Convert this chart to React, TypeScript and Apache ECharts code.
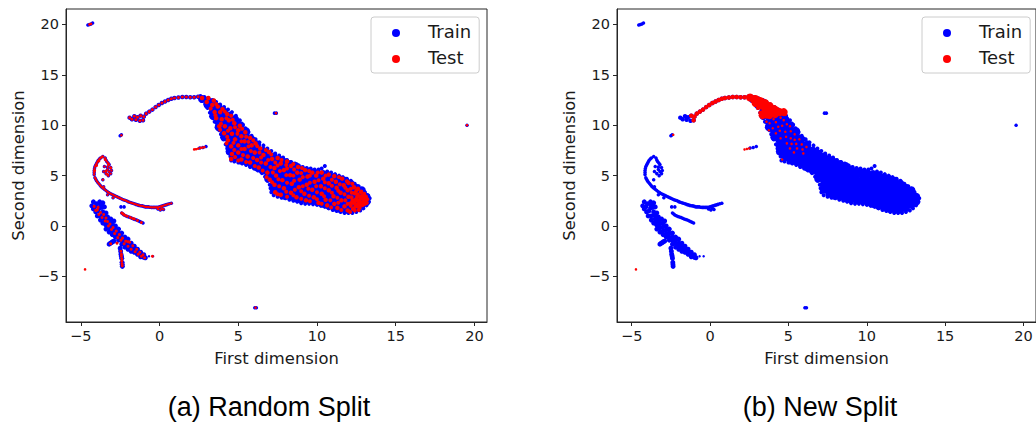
import React, { useEffect, useRef } from "react";
import * as echarts from "echarts";

const xTicks = [-5, 0, 5, 10, 15, 20];
const yTicks = [-5, 0, 5, 10, 15, 20];
const seriesNames = ["Train", "Test"];

const bodyBase = [
  [2.7,12.6],
  [3.05,12.0],[3.05,12.45],
  [3.4,10.9],[3.4,11.4],[3.4,11.9],[3.4,12.25],
  [3.75,9.8],[3.75,10.3],[3.75,10.8],[3.75,11.3],[3.75,11.8],
  [4.1,8.8],[4.1,9.3],[4.1,9.8],[4.1,10.3],[4.1,10.8],[4.1,11.35],
  [4.45,7.4],[4.45,7.9],[4.45,8.4],[4.45,8.9],[4.45,9.4],[4.45,9.9],[4.45,10.4],[4.45,10.95],
  [4.8,6.8],[4.8,7.3],[4.8,7.8],[4.8,8.3],[4.8,8.8],[4.8,9.3],[4.8,9.8],[4.8,10.3],[4.8,10.6],
  [5.15,6.5],[5.15,7.0],[5.15,7.5],[5.15,8.0],[5.15,8.5],[5.15,9.0],[5.15,9.5],[5.15,10.0],
  [5.5,6.4],[5.5,6.9],[5.5,7.4],[5.5,7.9],[5.5,8.4],[5.5,8.9],[5.5,9.4],
  [5.85,6.1],[5.85,6.6],[5.85,7.1],[5.85,7.6],[5.85,8.1],[5.85,8.6],
  [6.2,5.8],[6.2,6.3],[6.2,6.8],[6.2,7.3],[6.2,7.8],[6.2,8.1],
  [6.55,5.5],[6.55,6.0],[6.55,6.5],[6.55,7.0],[6.55,7.5],
  [6.9,4.7],[6.9,5.2],[6.9,5.7],[6.9,6.2],[6.9,6.7],[6.9,7.2],
  [7.25,3.6],[7.25,4.1],[7.25,4.6],[7.25,5.1],[7.25,5.6],[7.25,6.1],[7.25,6.6],[7.25,6.9],
  [7.6,3.2],[7.6,3.7],[7.6,4.2],[7.6,4.7],[7.6,5.2],[7.6,5.7],[7.6,6.2],[7.6,6.6],
  [7.95,3.0],[7.95,3.5],[7.95,4.0],[7.95,4.5],[7.95,5.0],[7.95,5.5],[7.95,6.0],[7.95,6.35],
  [8.3,2.9],[8.3,3.4],[8.3,3.9],[8.3,4.4],[8.3,4.9],[8.3,5.4],[8.3,5.9],[8.3,6.15],
  [8.65,2.75],[8.65,3.25],[8.65,3.75],[8.65,4.25],[8.65,4.75],[8.65,5.25],[8.65,5.75],[8.65,5.95],
  [9.0,2.6],[9.0,3.1],[9.0,3.6],[9.0,4.1],[9.0,4.6],[9.0,5.1],[9.0,5.6],
  [9.35,2.6],[9.35,3.1],[9.35,3.6],[9.35,4.1],[9.35,4.6],[9.35,5.1],[9.35,5.45],
  [9.7,2.55],[9.7,3.05],[9.7,3.55],[9.7,4.05],[9.7,4.55],[9.7,5.05],[9.7,5.3],
  [10.05,2.35],[10.05,2.85],[10.05,3.35],[10.05,3.85],[10.05,4.35],[10.05,4.85],[10.05,5.25],
  [10.4,2.2],[10.4,2.7],[10.4,3.2],[10.4,3.7],[10.4,4.2],[10.4,4.7],[10.4,5.15],
  [10.75,2.0],[10.75,2.5],[10.75,3.0],[10.75,3.5],[10.75,4.0],[10.75,4.5],[10.75,5.0],
  [11.1,1.85],[11.1,2.35],[11.1,2.85],[11.1,3.35],[11.1,3.85],[11.1,4.35],[11.1,4.85],
  [11.45,1.7],[11.45,2.2],[11.45,2.7],[11.45,3.2],[11.45,3.7],[11.45,4.2],[11.45,4.65],
  [11.8,1.6],[11.8,2.1],[11.8,2.6],[11.8,3.1],[11.8,3.6],[11.8,4.1],[11.8,4.5],
  [12.15,1.65],[12.15,2.15],[12.15,2.65],[12.15,3.15],[12.15,3.65],[12.15,4.2],
  [12.5,1.8],[12.5,2.3],[12.5,2.8],[12.5,3.3],[12.5,3.8],
  [12.85,2.1],[12.85,2.6],[12.85,3.1],[12.85,3.55],
  [13.15,2.4],[13.15,2.9],
];

const bodyEdge = [
  [2.6,12.9],[2.85,12.8],[3.1,12.65],[3.35,12.5],[3.6,12.3],[3.85,12.05],[4.1,11.8],[4.35,11.55],[4.6,11.3],[4.85,10.95],[5.1,10.5],[5.3,10.05],
  [5.45,9.7],[5.65,9.3],[5.85,8.95],[6.1,8.6],[6.35,8.3],[6.6,8.0],[6.85,7.7],[7.1,7.45],[7.35,7.2],[7.6,7.0],[7.85,6.8],[8.1,6.55],[8.35,6.35],
  [8.6,6.2],[8.85,6.0],[9.1,5.85],[9.35,5.75],[9.6,5.7],[9.85,5.6],[10.1,5.6],[10.3,5.7],[10.5,5.95],[10.65,5.4],[10.9,5.3],[11.15,5.15],[11.4,5.0],
  [11.65,4.85],[11.9,4.7],[12.15,4.5],[12.4,4.2],[12.65,3.95],[12.85,3.7],[13.05,3.35],[13.25,3.0],[13.35,2.75],
  [13.3,2.4],[13.15,2.05],[12.95,1.75],[12.75,1.55],[12.5,1.4],[12.25,1.3],[12.0,1.3],[11.75,1.3],[11.5,1.4],[11.25,1.5],[11.0,1.6],[10.75,1.75],
  [10.5,1.9],[10.25,2.0],[10.0,2.1],[9.75,2.15],[9.5,2.2],[9.25,2.2],[9.0,2.25],[8.75,2.4],[8.5,2.5],[8.25,2.6],[8.0,2.75],[7.75,2.8],[7.5,2.9],
  [7.25,3.05],[7.1,3.35],[7.05,3.75],[7.0,4.1],[6.85,4.5],[6.7,4.9],[6.5,5.25],[6.25,5.5],[6.0,5.7],[5.75,5.85],[5.5,6.05],[5.25,6.2],[5.0,6.3],
  [4.75,6.4],[4.55,6.5],[4.5,6.9],[4.45,7.25],[4.3,7.7],[4.2,8.1],[4.05,8.6],[3.9,9.1],[3.8,9.5],[3.65,9.95],[3.5,10.35],[3.35,10.8],[3.2,11.25],
  [3.05,11.7],[2.9,12.1],[2.7,12.4],
];

const arc = [
  [-1.9,10.75],[-1.75,10.6],[-1.6,10.9],[-1.5,10.55],[-1.4,10.8],[-1.25,10.45],[-1.2,10.95],[-1.0,10.85],[-1.05,10.5],[-0.85,11.15],
  [-0.65,11.35],[-0.45,11.55],[-0.25,11.8],[-0.05,12.0],[0.15,12.2],[0.35,12.35],[0.55,12.5],[0.75,12.62],[0.95,12.7],[1.2,12.75],
  [1.45,12.8],[1.7,12.8],[1.95,12.78],[2.2,12.78],[2.45,12.82],
];

const hook = [
  [-4.15,5.5],[-4.13,5.7],[-4.1,5.9],[-4.05,6.05],[-4.0,6.2],[-3.95,6.35],[-3.9,6.5],[-3.82,6.65],[-3.75,6.75],[-3.6,6.9],[-3.45,6.75],[-3.4,6.55],[-3.35,6.4],[-3.27,6.25],[-3.2,6.1],[-3.1,5.8],[-3.05,5.5],
  [-3.3,5.6],[-3.5,5.9],[-3.4,5.2],[-3.25,5.0],[-3.55,5.4],[-3.6,4.6],[-3.2,5.4],[-3.1,5.2],[-3.3,5.85],
  [-4.15,5.3],[-4.15,5.1],[-4.1,4.8],[-4.05,4.65],[-4.0,4.5],[-3.93,4.35],[-3.85,4.2],[-3.77,4.05],[-3.7,3.9],[-3.6,3.78],[-3.5,3.65],[-3.4,3.52],[-3.3,3.4],[-3.2,3.3],[-3.1,3.2],[-3.0,3.12],[-2.9,3.05],[-2.8,2.97],[-2.7,2.9],[-2.6,2.82],[-2.5,2.75],
  [-2.4,2.68],[-2.3,2.6],[-2.2,2.55],[-2.1,2.5],[-2.0,2.42],[-1.9,2.35],[-1.8,2.3],[-1.7,2.25],[-1.6,2.2],[-1.5,2.15],[-1.4,2.1],[-1.3,2.05],[-1.2,2.02],[-1.1,2.0],[-1.0,1.95],[-0.9,1.9],[-0.8,1.9],[-0.7,1.9],[-0.6,1.87],[-0.5,1.85],[-0.4,1.85],[-0.3,1.85],
  [-0.2,1.85],[-0.1,1.85],[0.0,1.9],[0.1,1.95],[0.2,2.0],[0.3,2.05],[0.4,2.1],[0.5,2.15],[0.62,2.2],[0.75,2.25],[0.05,1.6],[0.25,1.65],[-0.1,1.7],[0.15,1.75],[-3.55,3.9],[-3.3,3.1],[-2.95,2.8],
];

const streak = [
  [-2.4,1.3],[-2.32,1.2],[-2.25,1.1],[-2.15,1.02],[-2.05,0.95],[-1.95,0.9],[-1.85,0.85],[-1.75,0.78],[-1.65,0.7],[-1.55,0.65],[-1.45,0.6],[-1.35,0.52],[-1.25,0.45],[-1.15,0.38],[-1.05,0.3],[-2.45,1.9],[-2.25,1.9],
];

const fan = [
  [-4.3,2.0],[-4.2,2.4],[-4.2,1.7],[-4.0,2.2],[-3.8,2.4],[-3.6,2.3],[-3.5,1.9],[-4.05,1.4],[-3.8,1.8],[-3.6,1.4],[-3.95,1.0],[-3.75,1.0],[-4.1,1.9],[-3.9,1.5],[-3.65,1.85],[-3.75,2.1],[-3.55,1.05],
  [-3.4,1.3],[-3.75,0.6],[-3.5,0.7],[-3.3,0.9],[-3.1,0.7],[-2.9,0.5],[-3.6,0.3],[-3.45,0.25],[-3.3,0.15],
  [-3.4,0.9],[-3.4,0.5],[-3.4,0.1],[-3.4,-0.3],[-3.2,0.6],[-3.2,0.2],[-3.2,-0.2],[-3.2,-0.6],[-3.0,0.3],[-3.0,-0.1],[-3.0,-0.5],[-3.0,-0.85],
  [-2.8,0.0],[-2.8,-0.4],[-2.8,-0.8],[-2.8,-1.1],[-2.6,-0.3],[-2.6,-0.7],[-2.6,-1.1],[-2.6,-1.4],[-2.4,-0.7],[-2.4,-1.1],[-2.4,-1.4],[-2.4,-1.8],
  [-2.2,-1.1],[-2.2,-1.4],[-2.2,-1.7],[-2.2,-2.1],[-2.0,-1.3],[-2.0,-1.7],[-2.0,-2.0],[-2.0,-2.3],[-1.8,-1.7],[-1.8,-2.0],[-1.8,-2.3],[-1.8,-2.5],
  [-1.6,-2.0],[-1.6,-2.3],[-1.6,-2.6],[-1.4,-2.3],[-1.4,-2.6],[-1.4,-2.8],[-1.2,-2.6],[-1.2,-2.85],[-1.2,-3.05],[-1.0,-2.85],[-1.0,-3.1],[-0.9,-3.15],
  [-2.5,-2.2],[-2.47,-2.5],[-2.45,-2.8],[-2.42,-3.0],[-2.4,-3.2],[-2.38,-3.6],[-2.37,-3.8],[-2.36,-4.0],[-3.2,-1.8],[-3.12,-1.7],[-3.05,-1.65],[-2.98,-1.55],[-2.9,-1.5],
];

const fanDots = [[-0.67,-3.0],[-0.41,-3.0]];

const outliersTrain = [
  [-4.55,19.95],[-4.45,20.0],[-4.35,20.05],[-4.25,20.15],[7.3,11.2],[7.42,11.2],[19.53,10.0],[6.05,-8.1],[6.15,-8.1],[-2.5,8.95],[-2.42,9.05],[2.55,7.75],[2.75,7.8],[2.95,7.9],
];

const outliersTestA = [
  [-4.45,20.0],[-4.35,20.05],[7.4,11.2],[19.53,10.0],[6.1,-8.1],[-2.42,9.0],[2.2,7.6],[2.32,7.62],[2.45,7.68],[2.6,7.75],[2.72,7.78],[2.85,7.82],[-4.73,-4.3],
];

const outliersTestB = [[-4.73,-4.3],[-2.35,9.05],[2.2,7.6],[2.35,7.65],[2.5,7.7]];

const bodyTestA = [
  [2.7,12.7],[3.0,12.3],[3.1,12.7],[3.35,12.0],[3.45,12.45],[3.5,11.3],[3.7,11.85],[3.85,11.3],[3.6,10.7],[3.95,10.6],[4.0,11.6],[4.3,11.1],[4.4,10.5],
  [3.8,9.9],[4.15,9.9],[4.5,9.7],[4.75,10.2],[4.1,9.2],[4.6,9.15],[5.0,9.5],[5.1,9.95],[4.35,8.5],[4.8,8.6],[5.2,8.9],[5.45,9.3],[4.55,7.9],[5.0,8.0],[5.4,8.4],[5.75,8.75],
  [4.6,7.15],[4.55,6.65],[5.0,7.3],[5.4,7.65],[5.85,8.0],[6.1,8.2],[5.2,6.6],[5.6,6.9],[6.05,7.3],[6.4,7.7],[5.75,6.3],[6.2,6.55],[6.6,7.05],[6.95,7.35],
  [6.3,5.8],[6.75,6.2],[7.15,6.65],[7.5,6.75],[6.85,5.3],[7.3,5.75],[7.7,6.2],[8.1,6.4],[7.0,4.6],[7.4,5.0],[7.9,5.55],[8.35,5.95],[8.8,5.85],
  [7.3,4.1],[7.8,4.55],[8.3,5.05],[8.75,5.3],[9.25,5.55],[9.7,5.3],[7.35,3.35],[7.9,3.75],[8.4,4.2],[8.9,4.6],[9.4,4.9],[9.95,5.0],[10.3,5.3],
  [7.7,3.1],[8.35,3.3],[8.85,3.85],[9.35,4.1],[9.85,4.4],[10.4,4.7],[10.75,5.1],[11.1,4.95],[8.7,2.85],[9.2,3.2],[9.7,3.6],[10.25,3.95],[10.75,4.25],[11.2,4.4],[11.6,4.7],
  [9.3,2.55],[9.8,2.85],[10.3,3.2],[10.75,3.55],[11.25,3.8],[11.7,4.05],[12.0,4.3],[10.1,2.3],[10.55,2.6],[11.05,2.95],[11.5,3.3],[11.95,3.55],[12.35,3.85],[12.6,3.7],
  [10.65,2.05],[11.1,2.2],[11.55,2.55],[12.0,2.9],[12.4,3.25],[12.8,3.4],[11.3,1.8],[11.75,1.95],[12.15,2.25],[12.5,2.65],[12.85,2.95],[13.1,2.9],
  [11.95,1.55],[12.3,1.7],[12.55,2.0],[12.8,2.3],[13.05,2.55],[12.35,2.3],[12.6,2.5],[12.9,2.1],[13.15,2.3],[12.7,1.85],[12.95,2.7],[12.45,1.95],
];

const bodySpeckA = [
  [3.25,11.65],[3.6,12.1],[3.55,11.0],[4.15,11.35],[4.25,10.7],[3.9,10.15],[4.55,10.95],[4.65,10.55],[3.85,9.55],[4.35,9.45],[4.8,9.8],[5.25,9.65],[4.3,8.85],[4.95,9.15],[5.5,8.85],
  [4.25,8.2],[4.7,8.25],[5.2,8.4],[5.65,8.35],[5.95,8.5],[4.75,7.55],[5.2,7.65],[5.65,7.9],[6.2,7.95],[4.8,6.85],[5.3,7.05],[5.8,7.45],[6.35,7.3],[6.75,7.55],[5.0,6.5],[5.5,6.35],[5.95,6.75],[6.45,6.8],[7.1,7.1],
  [6.05,5.95],[6.45,6.3],[6.9,6.55],[7.35,6.3],[7.75,6.55],[6.55,5.5],[7.05,5.85],[7.5,6.0],[8.05,6.05],[8.5,6.15],[6.8,4.85],[7.2,5.3],[7.65,5.45],[8.1,5.7],[8.55,5.6],[9.05,5.75],[7.15,4.35],[7.55,4.65],[8.05,5.05],[8.5,5.0],[9.0,5.25],[9.5,5.45],
  [7.6,3.95],[8.1,4.3],[8.55,4.5],[9.1,4.85],[9.55,5.0],[10.05,5.3],[7.5,3.15],[8.05,3.4],[8.6,3.6],[9.1,3.95],[9.55,4.3],[10.1,4.55],[10.55,5.0],[8.1,2.9],[8.5,3.05],[9.0,3.45],[9.45,3.7],[9.95,3.95],[10.5,4.35],[10.95,4.6],[11.4,4.85],
  [9.0,2.7],[9.5,3.0],[10.0,3.35],[10.5,3.75],[10.95,4.0],[11.45,4.15],[11.9,4.45],[12.25,4.2],[9.55,2.45],[10.0,2.65],[10.45,2.95],[10.95,3.3],[11.35,3.5],[11.8,3.8],[12.15,3.7],[12.5,3.5],
  [10.3,2.2],[10.85,2.55],[11.3,2.8],[11.75,3.15],[12.2,3.3],[12.6,3.15],[13.0,3.2],[10.9,1.85],[11.35,2.3],[11.8,2.55],[12.2,2.85],[12.55,2.9],[13.0,3.0],[11.55,1.6],[11.95,2.2],[12.25,2.55],[12.75,2.65],[13.2,2.65],
  [12.1,1.4],[12.4,1.55],[12.15,2.0],[12.65,1.6],[12.75,2.1],[13.05,2.2],[12.6,2.2],[12.95,2.4],[12.4,2.55],[12.75,2.9],
];

const tailTestA = [
  [-4.12,5.5],[-4.0,6.0],[-3.85,6.45],[-3.65,6.85],[-3.45,6.6],[-3.25,6.1],[-3.1,5.75],[-3.4,5.45],[-3.3,5.1],
  [-2.4,1.3],[-2.3,1.18],[-2.2,1.06],[-2.05,0.97],[-1.85,0.85],[-1.7,0.75],[-1.6,0.7],[-1.4,0.55],[-1.15,0.35],
  [-4.15,1.95],[-4.05,1.55],[-3.9,1.85],[-3.85,1.15],[-3.65,0.85],[-3.45,0.5],[-3.25,0.0],[-3.05,-0.35],[-2.85,-0.75],[-2.65,-1.15],[-2.45,-1.4],[-2.25,-1.75],[-2.0,-2.0],
  [-1.8,-2.3],[-1.55,-2.55],[-1.35,-2.8],[-1.15,-3.0],[-0.95,-3.15],[-2.45,-2.5],[-2.42,-2.8],[-2.42,-3.0],[-2.4,-3.25],[-2.4,-3.5],[-2.38,-3.75],[-2.37,-3.95],[-0.45,-3.0],[-3.1,-1.75],[-2.7,-1.7],[-1.9,-1.6],
  [-3.95,1.6],[-3.75,1.35],[-3.55,1.15],[-3.4,0.8],[-3.3,0.45],[-3.15,0.2],[-2.95,-0.15],[-2.75,-0.5],[-2.55,-0.85],[-2.35,-1.2],[-2.15,-1.5],[-2.0,-1.55],[-1.7,-1.95],[-1.45,-2.3],[-1.25,-2.6],[-1.05,-2.85],
];

const solidTestB = [
  [2.55,12.75],[2.9,12.6],[2.9,12.2],[3.2,12.4],[3.2,11.95],[3.5,12.2],[3.5,11.75],[3.5,11.3],[3.8,11.9],[3.8,11.45],[3.8,11.0],[4.15,11.55],[4.15,11.1],[4.45,11.3],[4.7,11.3],[3.35,11.0],[3.6,11.05],
];

const edgeTestB = [
  [2.6,12.9],[2.85,12.8],[3.1,12.65],[3.35,12.5],[3.6,12.3],[3.85,12.05],[4.1,11.8],[4.35,11.55],[4.6,11.3],[4.8,11.1],[3.35,10.8],[3.2,11.25],[3.05,11.7],[2.9,12.1],[2.7,12.4],
];

const sparseTestB = [
  [3.6,10.35],[3.8,10.2],[4.05,10.6],[4.2,10.3],[4.5,10.75],[4.7,10.5],[3.75,9.5],[4.0,9.7],[4.35,9.85],[4.6,9.95],[4.9,10.1],[5.1,9.9],[4.2,9.2],[4.45,9.45],[4.8,9.35],[5.15,9.4],
  [5.4,9.1],[4.5,8.7],[4.85,8.85],[5.15,8.7],[5.4,8.55],[5.7,8.6],[4.9,8.2],[5.2,8.15],[5.5,8.15],[5.85,8.1],[5.1,7.7],[5.55,7.7],[5.9,7.6],[6.15,7.85],[5.35,7.3],[5.95,7.2],[4.6,6.6],
];

const grids = [
  { left: 66, top: 9, width: 421, height: 313 },
  { left: 617, top: 9, width: 421, height: 313 },
];

const tickText = { color: "#1a1a1a", fontFamily: "DejaVu Sans", fontSize: 14.5 };
const nameText = { color: "#1a1a1a", fontFamily: "DejaVu Sans", fontSize: 16.4 };
const minus = (v: number) => String(v).replace("-", "\u2212");

function makeAxes() {
  const xAxis = grids.map((_, i) => ({
    type: "value", gridIndex: i, min: -5.94, max: 20.8,
    name: "First dimension", nameLocation: "middle", nameGap: 28,
    nameTextStyle: nameText, splitLine: { show: false },
    axisLine: { show: true, onZero: false, lineStyle: { color: "#262626", width: 1 } },
    axisTick: { show: true, length: 4, customValues: xTicks, lineStyle: { color: "#262626" } },
    axisLabel: { ...tickText, margin: 6, customValues: xTicks, formatter: minus },
  }));
  const yAxis = grids.map((_, i) => ({
    type: "value", gridIndex: i, min: -9.52, max: 21.53,
    name: "Second dimension", nameLocation: "middle", nameGap: 40,
    nameTextStyle: nameText, splitLine: { show: false },
    axisLine: { show: true, onZero: false, lineStyle: { color: "#262626", width: 1 } },
    axisTick: { show: true, length: 4, customValues: yTicks, lineStyle: { color: "#262626" } },
    axisLabel: { ...tickText, margin: 7, customValues: yTicks, formatter: minus },
  }));
  return { xAxis, yAxis };
}

function s(panel: number, name: string, data: number[][], size: number) {
  return {
    type: "scatter", name, data, symbolSize: size, xAxisIndex: panel, yAxisIndex: panel, silent: true,
    itemStyle: { color: name === "Train" ? "#0000ff" : "#ff0000", opacity: 1 },
  };
}

function legend(left: number) {
  return {
    data: seriesNames, left, top: 17, orient: "vertical", padding: [5, 8, 7, 8], itemWidth: 44, itemHeight: 12, itemGap: 8,
    icon: "path://M0 0M44 12M13 8a4 4 0 1 0 8 0a4 4 0 1 0 -8 0Z",
    backgroundColor: "rgba(255,255,255,0.8)", borderColor: "#cccccc", borderWidth: 1, borderRadius: 3,
    selectedMode: false,
    textStyle: { color: "#1a1a1a", fontFamily: "DejaVu Sans", fontSize: 18 },
  };
}

function trainLayers(panel: number) {
  return [
    s(panel, "Train", bodyEdge, 4),
    s(panel, "Train", bodyBase, 8),
    s(panel, "Train", arc, 4.5),
    s(panel, "Train", hook, 3.5),
    s(panel, "Train", streak, 3.5),
    s(panel, "Train", fan, 5),
    s(panel, "Train", fanDots, 2.5),
    s(panel, "Train", outliersTrain, 3.5),
  ];
}

export default function App() {
  const ref = useRef<HTMLDivElement>(null);
  useEffect(() => {
    document.body.style.margin = "0";
    const chart = echarts.init(ref.current!, undefined, { renderer: "svg" });
    const { xAxis, yAxis } = makeAxes();
    chart.setOption({
      animation: false,
      backgroundColor: "#ffffff",
      grid: grids.map((g) => ({ ...g, show: true, borderColor: "#262626", borderWidth: 1, backgroundColor: "transparent" })),
      xAxis, yAxis,
      legend: [legend(371), legend(922)],
      series: [
        ...trainLayers(0),
        s(0, "Test", bodyTestA, 4.5),
        s(0, "Test", bodySpeckA, 4),
        s(0, "Test", arc, 3),
        s(0, "Test", hook, 2.4),
        s(0, "Test", tailTestA, 3),
        s(0, "Test", outliersTestA, 2.6),
        ...trainLayers(1),
        s(1, "Test", arc.slice(6), 4.5),
        s(1, "Test", edgeTestB, 4),
        s(1, "Test", solidTestB, 8),
        s(1, "Test", sparseTestB, 2.5),
        s(1, "Test", outliersTestB, 2.5),
      ],
      graphic: [
        { type: "text", x: 269, y: 407, style: { text: "(a) Random Split", fontFamily: "Liberation Sans", fontSize: 27, fill: "#000", textAlign: "center", textVerticalAlign: "middle" } },
        { type: "text", x: 820, y: 407, style: { text: "(b) New Split", fontFamily: "Liberation Sans", fontSize: 27, fill: "#000", textAlign: "center", textVerticalAlign: "middle" } },
      ],
    });
    return () => chart.dispose();
  }, []);
  return <div ref={ref} style={{ width: 1036, height: 423, overflow: "hidden" }} />;
}
